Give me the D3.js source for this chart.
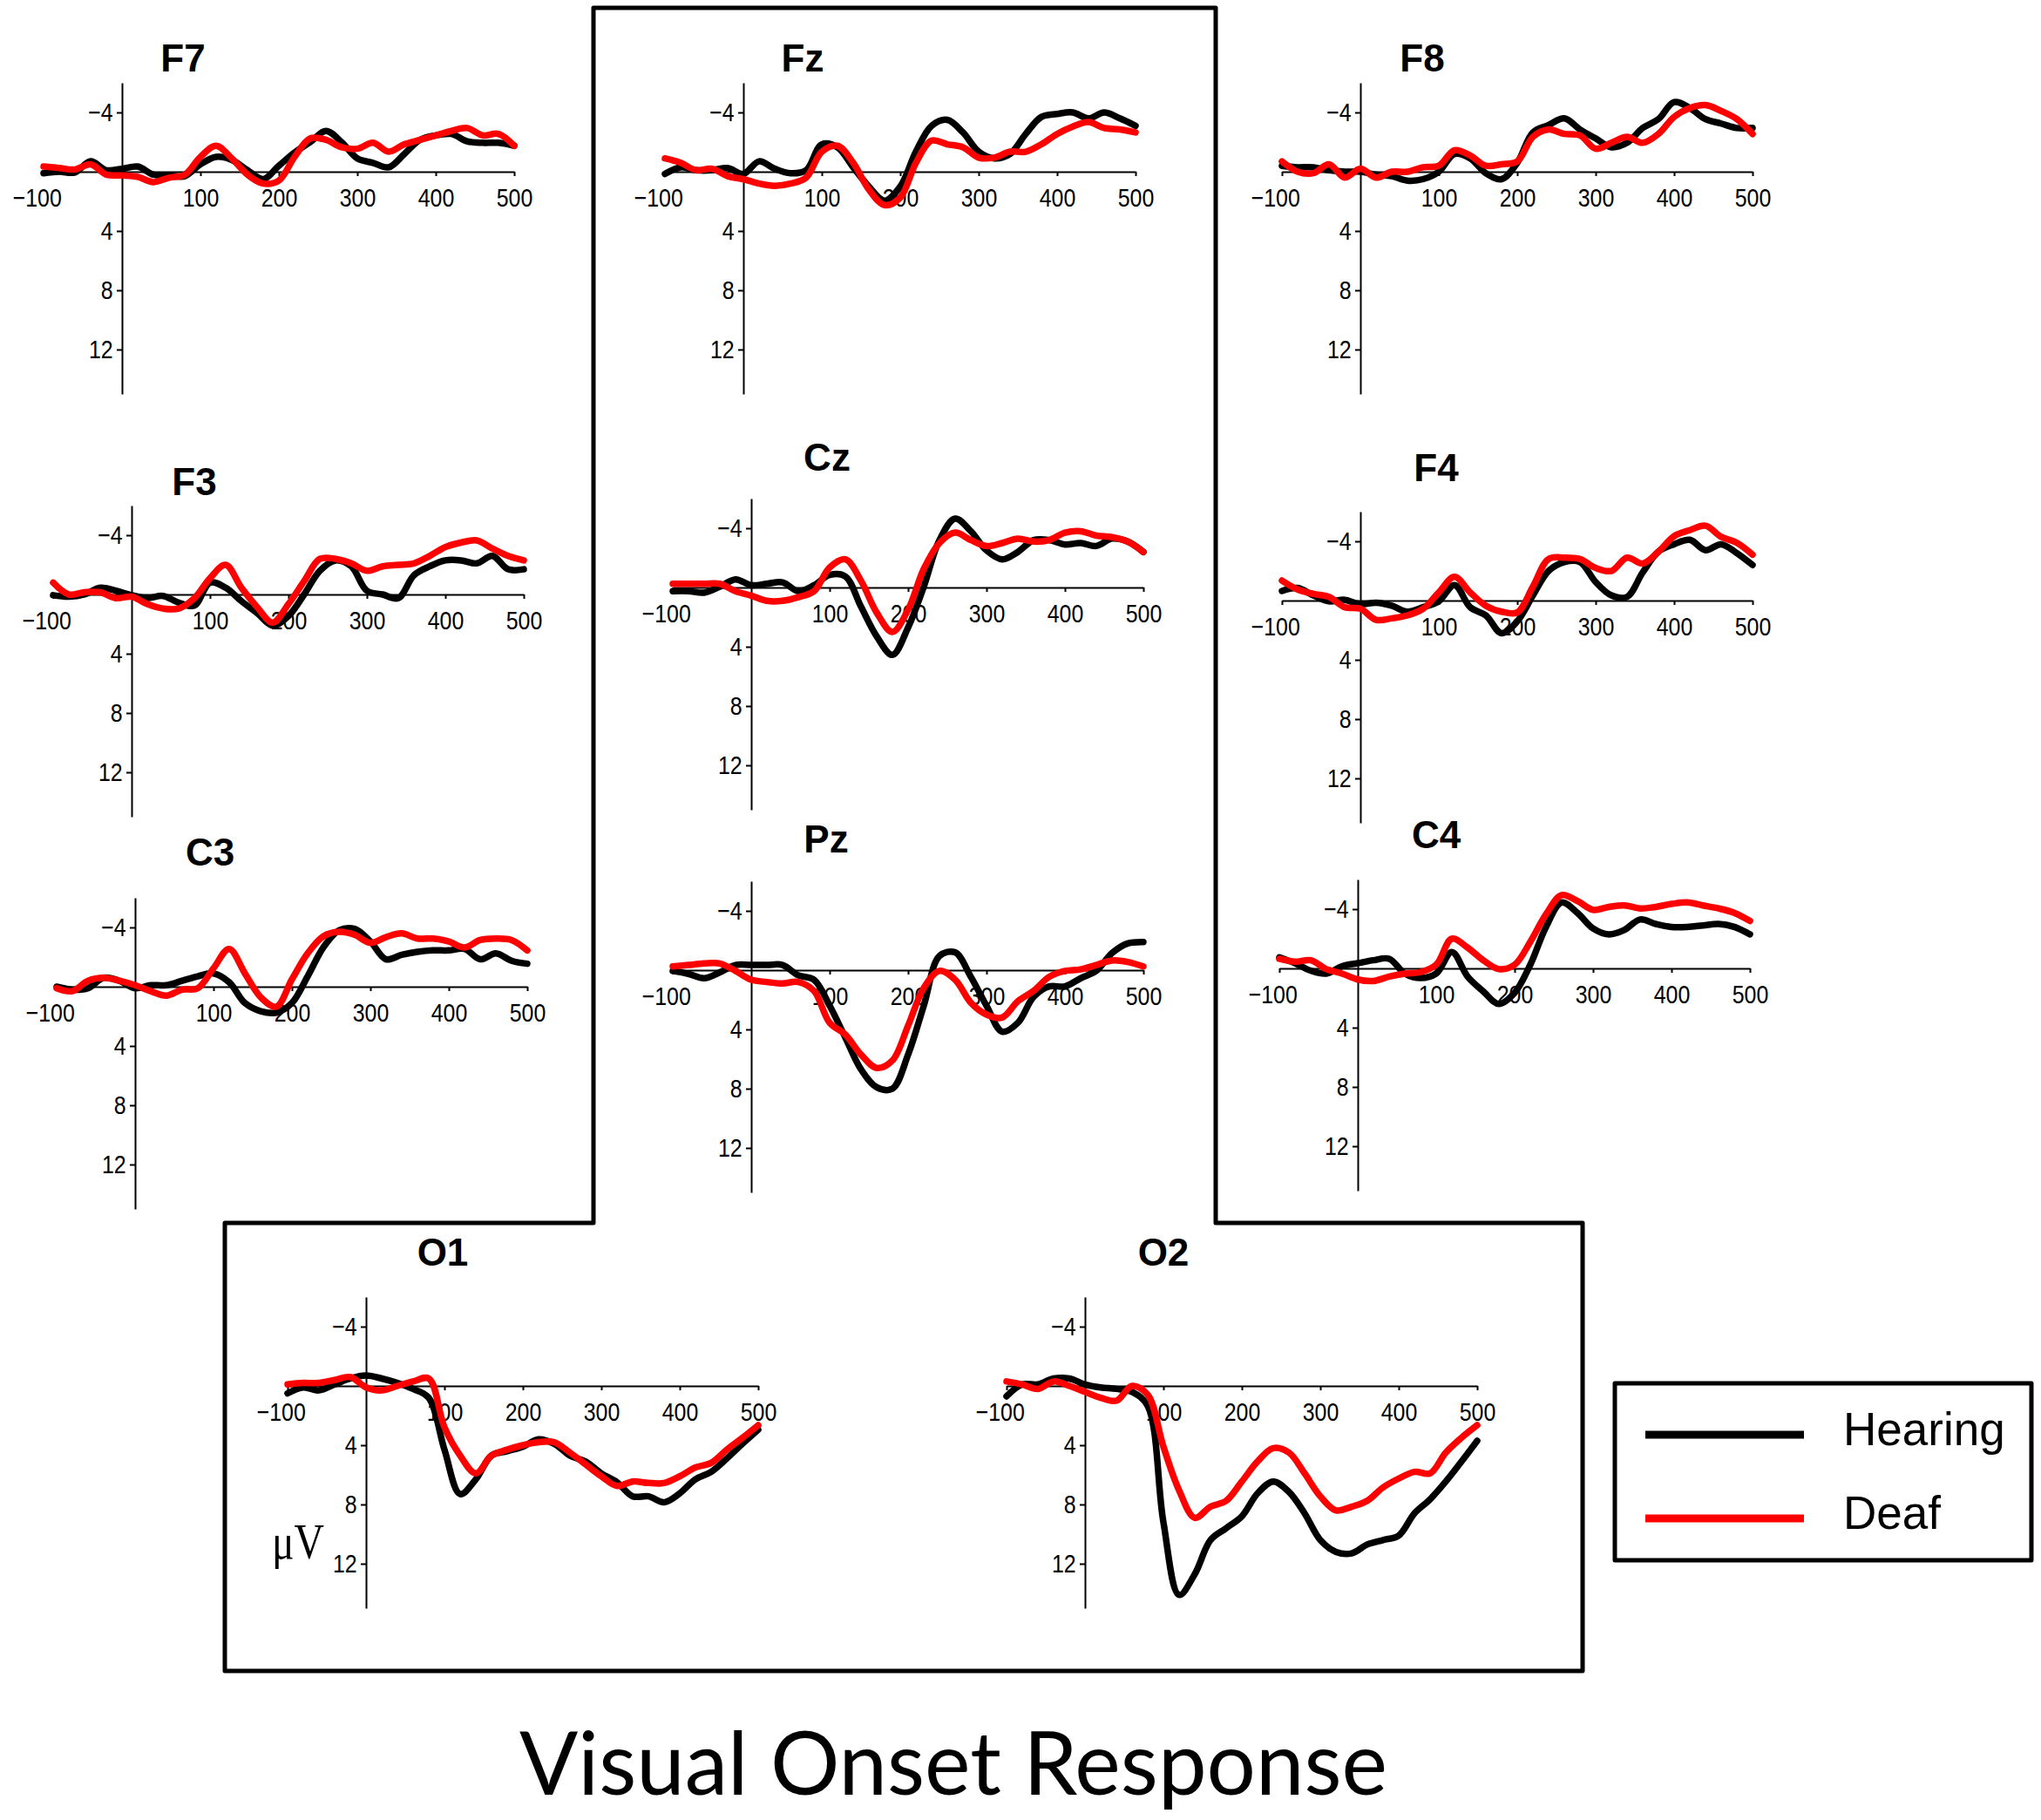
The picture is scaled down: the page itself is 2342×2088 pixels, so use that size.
<!DOCTYPE html>
<html>
<head>
<meta charset="utf-8">
<script src="https://cdn.jsdelivr.net/npm/d3@7"></script>
<style>
  body { margin: 0; background: #fff; }
  svg { display: block; }
</style>
</head>
<body>
<div id="chart"></div>
<script>
// ---- data: ERP amplitudes in microvolts (negative is up), 20 ms steps ----
const times = [-100, -80, -60, -40, -20, 0, 20, 40, 60, 80, 100, 120, 140, 160, 180, 200,
               220, 240, 260, 280, 300, 320, 340, 360, 380, 400, 420, 440, 460, 480, 500];
const channels = ["F7", "Fz", "F8", "F3", "Cz", "F4", "C3", "Pz", "C4", "O1", "O2"];
const groups = ["Hearing", "Deaf"];
const xTicks = [-100, 100, 200, 300, 400, 500];
const yTicks = [-4, 4, 8, 12];

const F7_hearing = [0.1, 0, 0.05, -0.7, -0.1, -0.2, -0.35, 0.2, 0.25, 0.3, -0.5, -1.0, -0.8, -0.1, 0.5, -0.4, -1.3, -2.0, -2.75, -2.0, -0.9, -0.6, -0.3, -1.2, -2.15, -2.45, -2.55, -2.05, -1.95, -1.95, -1.75];
const F7_deaf    = [-0.35, -0.25, -0.15, -0.5, 0.2, 0.25, 0.35, 0.7, 0.4, 0.2, -1.0, -1.75, -0.9, 0.2, 0.8, 0.6, -1.0, -2.25, -2.15, -1.65, -1.55, -1.95, -1.35, -1.85, -2.15, -2.45, -2.75, -2.95, -2.45, -2.55, -1.75];
const Fz_hearing = [0.15, -0.3, -0.1, -0.1, -0.25, 0.15, -0.7, -0.2, 0.1, -0.1, -1.85, -1.65, -0.3, 1.0, 1.95, 1.0, -1.35, -3.1, -3.5, -2.65, -1.35, -0.9, -1.2, -2.55, -3.7, -3.9, -4.0, -3.6, -4.0, -3.6, -3.1];
const Fz_deaf    = [-0.9, -0.6, -0.1, -0.2, 0.3, 0.5, 0.8, 0.95, 0.8, 0.4, -1.35, -1.75, -0.6, 1.2, 2.25, 1.75, -0.6, -2.1, -1.85, -1.65, -0.95, -0.95, -1.35, -1.35, -1.85, -2.55, -3.05, -3.35, -2.95, -2.85, -2.65];
const F8_hearing = [-0.4, -0.3, -0.3, -0.1, 0, 0, 0.2, 0.3, 0.6, 0.5, 0, -1.2, -0.9, 0.1, 0.5, -0.6, -2.65, -3.15, -3.6, -2.85, -2.25, -1.65, -1.95, -2.95, -3.55, -4.7, -4.3, -3.55, -3.25, -2.95, -2.95];
const F8_deaf    = [-0.7, 0, 0.1, -0.5, 0.4, -0.2, 0.4, 0, 0, -0.3, -0.4, -1.45, -1.1, -0.4, -0.5, -0.7, -2.35, -2.85, -2.55, -2.45, -1.55, -1.95, -2.35, -1.95, -2.55, -3.7, -4.3, -4.5, -4.1, -3.55, -2.55];
const F3_hearing = [0.05, 0.15, 0, -0.45, -0.25, 0.05, 0.25, 0.1, 0.55, 0.75, -0.8, -0.45, 0.45, 1.25, 2.1, 1.45, 0, -1.6, -2.3, -1.9, -0.25, 0, 0.25, -1.3, -1.9, -2.3, -2.3, -2.1, -2.6, -1.7, -1.7];
const F3_deaf    = [-0.8, 0, -0.15, -0.15, 0.25, 0.15, 0.65, 0.95, 0.95, 0.25, -1.1, -2.0, -0.45, 0.85, 1.9, 0.65, -0.9, -2.4, -2.4, -2.1, -1.6, -1.9, -2.0, -2.1, -2.6, -3.2, -3.5, -3.65, -3.1, -2.6, -2.3];
const Cz_hearing = [0.25, 0.25, 0.35, -0.05, -0.55, -0.15, -0.25, -0.35, 0.25, -0.15, -0.85, -0.75, 1.3, 3.3, 4.55, 2.7, -0.05, -3.2, -4.65, -3.8, -2.5, -1.9, -2.4, -3.2, -3.2, -2.9, -3.0, -2.8, -3.3, -3.1, -2.4];
const Cz_deaf    = [-0.25, -0.25, -0.25, -0.25, 0.25, 0.55, 0.9, 0.9, 0.65, 0.25, -1.35, -1.9, -0.45, 1.7, 3.0, 1.5, -1.25, -3.0, -3.7, -3.2, -2.8, -3.0, -3.3, -3.1, -3.2, -3.7, -3.8, -3.5, -3.4, -3.1, -2.4];
const F4_hearing = [-0.65, -0.85, -0.35, 0.05, -0.05, 0.25, 0.15, 0.35, 0.75, 0.45, 0.05, -1.05, 0.45, 1.0, 2.2, 1.4, -0.35, -2.0, -2.6, -2.6, -1.25, -0.35, -0.25, -1.9, -3.3, -3.8, -4.1, -3.4, -3.8, -3.2, -2.4];
const F4_deaf    = [-1.35, -0.75, -0.45, -0.25, 0.45, 0.55, 1.3, 1.2, 1.0, 0.55, -0.55, -1.6, -0.55, 0.35, 0.75, 0.8, -0.95, -2.8, -2.9, -2.8, -2.2, -2.0, -2.9, -2.5, -3.3, -4.35, -4.75, -5.05, -4.3, -3.9, -3.1];
const C3_hearing = [0, 0.2, 0.1, -0.6, -0.4, 0.1, -0.1, -0.1, -0.4, -0.7, -0.9, -0.3, 1.1, 1.65, 1.75, 1.1, -0.7, -2.65, -3.8, -3.9, -3.05, -1.85, -2.15, -2.35, -2.45, -2.45, -2.55, -1.85, -2.25, -1.75, -1.55];
const C3_deaf    = [0.1, 0.3, -0.4, -0.6, -0.4, -0.1, 0.3, 0.6, 0.2, 0.1, -1.25, -2.55, -0.9, 0.7, 1.35, -0.5, -2.25, -3.4, -3.7, -3.5, -2.95, -3.35, -3.6, -3.25, -3.25, -3.05, -2.65, -3.15, -3.25, -3.15, -2.45];
const Pz_hearing = [0.05, 0.25, 0.55, 0.15, -0.35, -0.35, -0.35, -0.35, 0.35, 0.65, 2.4, 4.55, 6.7, 7.9, 8.0, 5.7, 2.4, -0.95, -1.2, 0.45, 2.4, 4.15, 3.55, 1.8, 1.1, 1.1, 0.55, 0.05, -1.15, -1.8, -1.9];
const Pz_deaf    = [-0.25, -0.35, -0.45, -0.45, 0.05, 0.65, 0.8, 0.9, 0.8, 1.4, 3.55, 4.35, 5.7, 6.6, 6.1, 3.75, 1.2, 0.05, 0.65, 2.2, 3.0, 3.2, 2.1, 1.4, 0.45, 0.05, -0.05, -0.35, -0.65, -0.55, -0.25];
const C4_hearing = [-0.75, -0.35, 0.15, 0.35, -0.15, -0.35, -0.55, -0.65, 0.35, 0.65, 0.35, -1.1, 0.55, 1.55, 2.4, 1.65, -0.25, -2.8, -4.45, -3.75, -2.7, -2.3, -2.6, -3.3, -3.0, -2.8, -2.8, -2.9, -3.0, -2.8, -2.3];
const C4_deaf    = [-0.65, -0.45, -0.55, 0.05, 0.35, 0.75, 0.85, 0.55, 0.35, 0.25, -0.25, -2.0, -1.4, -0.55, 0.05, -0.25, -1.8, -3.65, -4.95, -4.55, -3.95, -4.15, -4.25, -4.05, -4.15, -4.35, -4.45, -4.25, -4.05, -3.75, -3.2];
const O1_hearing = [0.5, 0.1, 0.3, -0.1, -0.5, -0.7, -0.5, -0.2, 0.2, 0.8, 4.3, 7.3, 6.3, 4.7, 4.4, 4.1, 3.6, 3.9, 4.7, 5.1, 5.9, 6.5, 7.45, 7.45, 7.85, 7.25, 6.3, 5.8, 4.9, 3.9, 2.95];
const O1_deaf    = [-0.1, -0.2, -0.2, -0.4, -0.6, 0.1, 0.3, 0, -0.3, -0.5, 2.8, 4.7, 5.9, 4.7, 4.3, 4.0, 3.8, 3.8, 4.5, 5.3, 6.1, 6.75, 6.45, 6.55, 6.55, 6.1, 5.5, 5.2, 4.3, 3.5, 2.65];
const O2_hearing = [0.7, -0.1, -0.1, -0.5, -0.5, -0.1, 0.1, 0.2, 0.4, 1.35, 9.2, 14.1, 12.7, 10.4, 9.6, 8.8, 7.25, 6.45, 7.15, 8.6, 10.4, 11.2, 11.3, 10.7, 10.4, 10.1, 8.6, 7.65, 6.45, 5.1, 3.7];
const O2_deaf    = [-0.3, -0.1, 0.2, -0.3, 0, 0.4, 0.8, 1.0, 0, 0.6, 4.1, 7.05, 8.9, 8.15, 7.75, 6.45, 5.1, 4.2, 4.5, 5.9, 7.45, 8.4, 8.15, 7.75, 6.85, 6.25, 5.8, 5.9, 4.5, 3.5, 2.65];

const series = {
  F7: [F7_hearing, F7_deaf], Fz: [Fz_hearing, Fz_deaf], F8: [F8_hearing, F8_deaf],
  F3: [F3_hearing, F3_deaf], Cz: [Cz_hearing, Cz_deaf], F4: [F4_hearing, F4_deaf],
  C3: [C3_hearing, C3_deaf], Pz: [Pz_hearing, Pz_deaf], C4: [C4_hearing, C4_deaf],
  O1: [O1_hearing, O1_deaf], O2: [O2_hearing, O2_deaf]
};

// ---- layout (pixels) ----
const width = 2342, height = 2088;
const panelW = 540;            // -100..500 ms
const pxPerUV = 17;
// x0: left end of time axis, y0: zero line, lx/ly: electrode label
const layout = {
  F7: {x0: 50,   y0: 197,  lx: 210,  ly: 82},
  Fz: {x0: 763,  y0: 197,  lx: 921,  ly: 82},
  F8: {x0: 1471, y0: 197,  lx: 1632, ly: 82},
  F3: {x0: 61,   y0: 682,  lx: 223,  ly: 568},
  Cz: {x0: 772,  y0: 674,  lx: 949,  ly: 540},
  F4: {x0: 1471, y0: 689,  lx: 1648, ly: 552},
  C3: {x0: 65,   y0: 1132, lx: 241,  ly: 993},
  Pz: {x0: 772,  y0: 1113, lx: 948,  ly: 978},
  C4: {x0: 1468, y0: 1111, lx: 1648, ly: 973},
  O1: {x0: 330,  y0: 1590, lx: 508,  ly: 1452},
  O2: {x0: 1155, y0: 1590, lx: 1335, ly: 1452}
};
const colors = d3.scaleOrdinal().domain(groups).range(["#000000", "#ff0000"]);
const tickFont = "'Liberation Sans', Arial, sans-serif";

const svg = d3.create("svg")
  .attr("width", width)
  .attr("height", height)
  .attr("viewBox", `0 0 ${width} ${height}`);

svg.append("rect").attr("width", width).attr("height", height).attr("fill", "#fff");

// outline round the midline + occipital group
svg.append("path")
  .attr("d", "M681,9 L1395,9 L1395,1403 L1816,1403 L1816,1917 L258,1917 L258,1403 L681,1403 Z")
  .attr("fill", "none")
  .attr("stroke", "#000")
  .attr("stroke-width", 5)
  .attr("stroke-linejoin", "round");

channels.forEach(ch => {
  const L = layout[ch];
  const x = d3.scaleLinear().domain([-100, 500]).range([L.x0, L.x0 + panelW]);
  const y = d3.scaleLinear().domain([-6, 15]).range([L.y0 - 6 * pxPerUV, L.y0 + 15 * pxPerUV]);

  const g = svg.append("g").attr("class", "panel");

  // x axis along zero line
  const xa = g.append("g")
    .attr("transform", `translate(0,${y(0)})`)
    .call(d3.axisBottom(x).tickValues(xTicks).tickSize(5).tickSizeOuter(0).tickPadding(14));
  xa.selectAll("text").filter(d => d === -100).attr("dx", -9);

  // y axis at time zero
  const ya = g.append("g")
    .attr("transform", `translate(${x(0)},0)`)
    .call(d3.axisLeft(y).tickValues(yTicks).tickSize(6).tickSizeOuter(0).tickPadding(6));

  g.selectAll(".domain, .tick line").attr("stroke", "#000").attr("stroke-width", 2);
  // condensed look of the original tick labels
  g.selectAll(".tick text")
    .attr("font-family", tickFont)
    .attr("font-size", 29)
    .attr("fill", "#000")
    .attr("transform", "scale(0.86,1)");

  const line = d3.line()
    .x((d, i) => x(times[i]))
    .y(d => y(d))
    .curve(d3.curveCatmullRom.alpha(0.5));

  g.selectAll("path.erp")
    .data(series[ch])
    .join("path")
    .attr("class", "erp")
    .attr("d", line)
    .attr("fill", "none")
    .attr("stroke", (d, i) => colors(groups[i]))
    .attr("stroke-width", 7.5)
    .attr("stroke-linejoin", "round")
    .attr("stroke-linecap", "round");

  g.append("text")
    .attr("x", L.lx)
    .attr("y", L.ly)
    .attr("text-anchor", "middle")
    .attr("font-family", tickFont)
    .attr("font-weight", "bold")
    .attr("font-size", 44)
    .text(ch);
});

// unit label
svg.append("text")
  .attr("x", 312)
  .attr("y", 1788)
  .attr("font-family", "'Liberation Serif', 'Times New Roman', serif")
  .attr("font-size", 58)
  .attr("textLength", 60)
  .attr("lengthAdjust", "spacingAndGlyphs")
  .text("\u03bcV");

// legend
const legend = svg.append("g");
legend.append("rect")
  .attr("x", 1853).attr("y", 1587).attr("width", 478).attr("height", 203)
  .attr("fill", "none").attr("stroke", "#000").attr("stroke-width", 5)
  .attr("stroke-linejoin", "round");
const legendRows = legend.selectAll("g.row")
  .data(groups)
  .join("g")
  .attr("class", "row")
  .attr("transform", (d, i) => `translate(0,${i * 96})`);
legendRows.append("line")
  .attr("x1", 1888).attr("x2", 2070).attr("y1", 1646).attr("y2", 1646)
  .attr("stroke", d => colors(d)).attr("stroke-width", 9);
legendRows.append("text")
  .attr("x", 2115).attr("y", 1658)
  .attr("font-family", tickFont)
  .attr("font-size", 53)
  .text(d => d);

// title
svg.append("text")
  .attr("x", 1094)
  .attr("y", 2059)
  .attr("text-anchor", "middle")
  .attr("font-family", "Lato, 'Open Sans', sans-serif")
  .attr("font-size", 100)
  .attr("textLength", 996)
  .attr("lengthAdjust", "spacingAndGlyphs")
  .text("Visual Onset Response");

document.getElementById("chart").appendChild(svg.node());
</script>
</body>
</html>
